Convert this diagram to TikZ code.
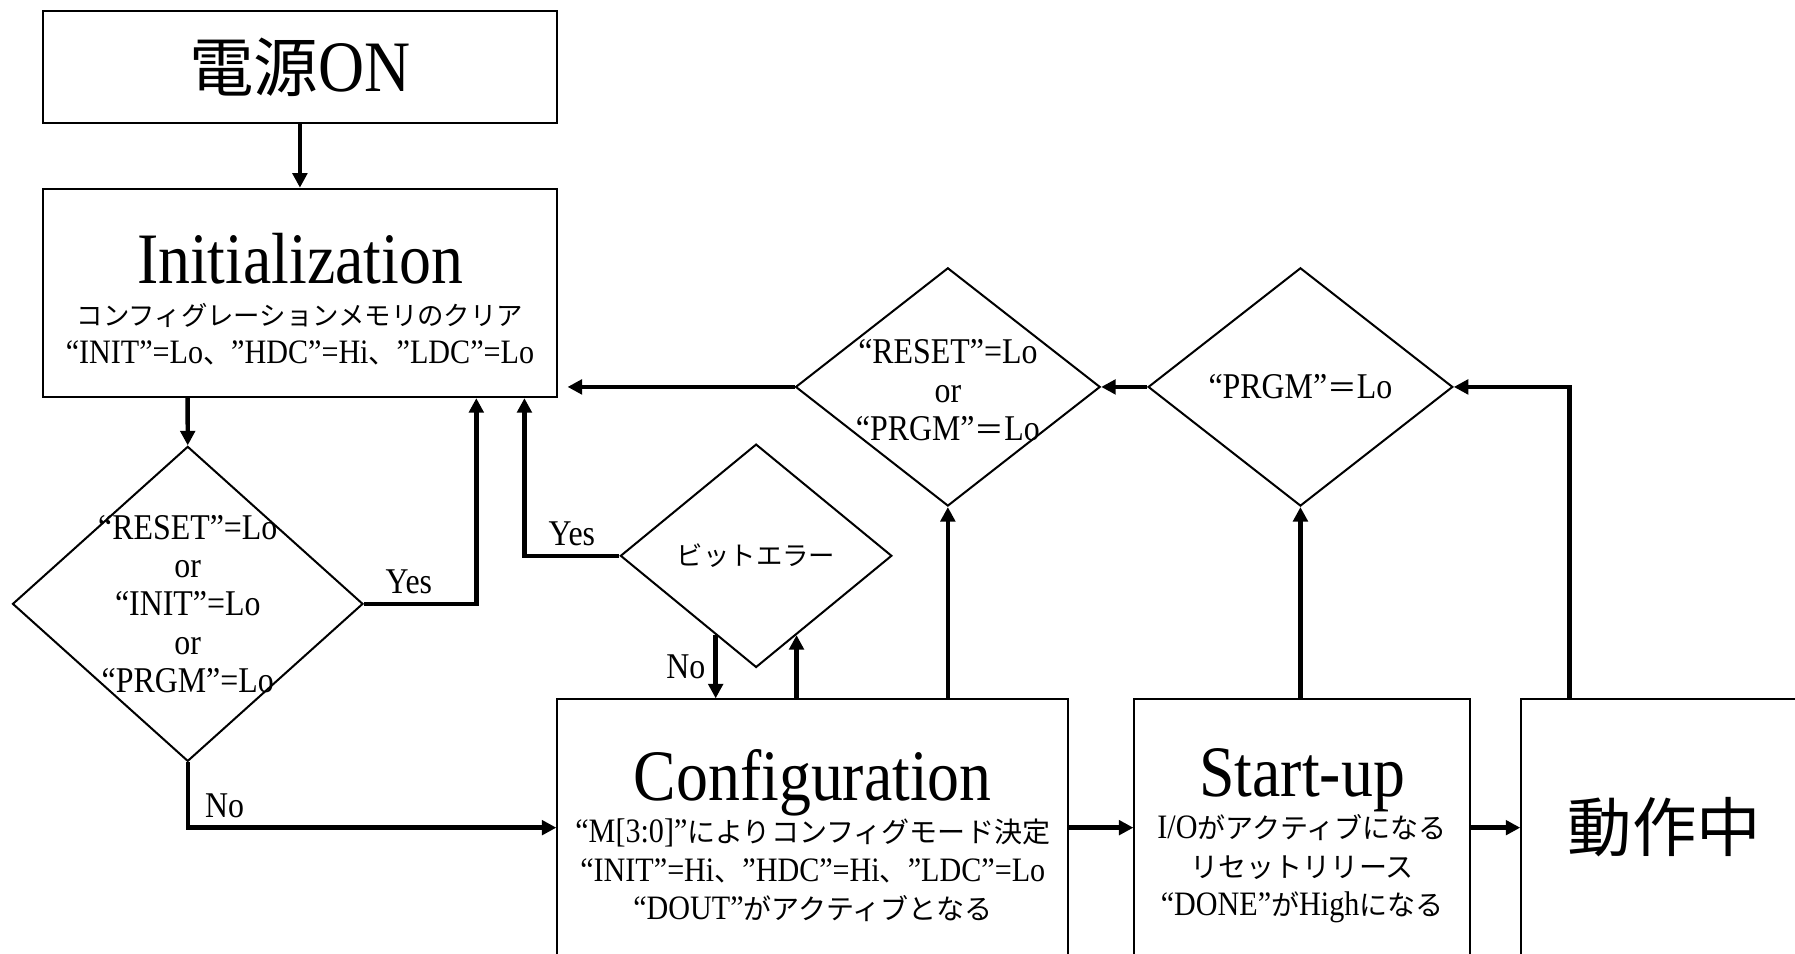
\documentclass[tikz,border=0pt]{standalone}
\usepackage{fontspec}
\setmainfont[FakeStretch=0.88]{Liberation Serif}
\newfontfamily\jp[Scale=0.82]{Noto Sans CJK JP}
\newfontfamily\jpt[Scale=0.89]{Noto Sans CJK JP}
\usetikzlibrary{shapes.geometric,arrows.meta,positioning}
\newcommand{\boxtitle}{\fontsize{18}{20}\selectfont}
\newcommand{\tightlines}{\lineskiplimit=-20pt\relax}

\begin{document}
\begin{tikzpicture}[
    x=0.01cm, y=-0.01cm,
    box/.style={rectangle, draw, line width=0.5pt, align=center, inner sep=0pt,
        font=\fontsize{8.5}{9.5}\selectfont\tightlines},
    decision/.style={diamond, draw, line width=0.5pt, inner sep=0pt},
    dtext/.style={align=center, inner sep=0pt, font=\fontsize{9}{9.53}\selectfont\tightlines},
    arr/.style={-{Triangle[length=3.6pt,width=3.6pt]}, line width=1.1pt},
    lbl/.style={font=\fontsize{9}{10}\selectfont, inner sep=2pt}
]
    \useasboundingbox (0,0) rectangle (1568,833);
    \clip (0,0) rectangle (1568,833);

    \node[box, minimum width=4.48cm, minimum height=0.97cm] (power) at (262,58.5) {\boxtitle{\jpt 電源}ON};
    \node[box, minimum width=4.48cm, minimum height=1.82cm, below=0.56cm of power] (init)
        {{\boxtitle\rule{0pt}{15.5pt}Initialization}\\[1pt] {\jp\fontsize{8}{9.5}\selectfont コンフィグレーションメモリのクリア}\\ “INIT”=Lo{\jp 、}”HDC”=Hi{\jp 、}”LDC”=Lo};
    \node[box, minimum width=4.46cm, minimum height=2.38cm] (config) at (710,730)
        {{\boxtitle Configuration}\\[1pt] “M[3:0]”{\jp によりコンフィグモード決定}\\ “INIT”=Hi{\jp 、}”HDC”=Hi{\jp 、}”LDC”=Lo\\ “DOUT”{\jp がアクティブとなる}};
    \node[box, minimum width=2.93cm, minimum height=2.38cm, right=0.56cm of config] (startup)
        {{\boxtitle Start-up}\\[1pt] I/O{\jp がアクティブになる}\\ {\jp リセットリリース}\\ “DONE”{\jp が}High{\jp になる}};
    \node[box, minimum width=2.5cm, minimum height=2.38cm, right=0.43cm of startup] (run) {\boxtitle{\jpt 動作中}\rule[-0.2cm]{0pt}{0.2cm}};

    \node[decision, minimum width=3.06cm, minimum height=2.75cm,
        label={[dtext]center:{“RESET”=Lo\\or\\“INIT”=Lo\\or\\“PRGM”=Lo}}] (d1) at (164,527.5) {};
    \node[decision, minimum width=2.37cm, minimum height=1.95cm,
        label={[dtext, font=\fontsize{8}{9}\selectfont]center:{\jp ビットエラー}}] (d2) at (660.5,485.5) {};
    \node[decision, minimum width=2.66cm, minimum height=2.08cm,
        label={[dtext, yshift=-0.03cm]center:{“RESET”=Lo\\or\\“PRGM”{\jp ＝}Lo}}] (d3) at (828,338) {};
    \node[decision, minimum width=2.66cm, minimum height=2.08cm,
        label={[dtext]center:{“PRGM”{\jp ＝}Lo}}] (d4) at (1136,338) {};

    \draw[arr] (power) -- (init);
    \draw[arr] ([xshift=-0.98cm]init.south) -- (d1.north);
    \draw[arr] (d1.east) -| node[lbl, above, pos=0.2] (yes1) {Yes} ([xshift=1.54cm]init.south);
    \draw[arr] (d1.south) |- node[lbl, above, pos=0.55] (no1) {No} ([yshift=0.07cm]config.west);
    \draw[arr] (d2.west) -| node[lbl, above, pos=0.25] (yes2) {Yes} ([xshift=1.96cm]init.south);
    \draw[arr] (d2.243) -- node[lbl, left] (no2) {No} (d2.243 |- config.north);
    \draw[arr] (d2.297 |- config.north) -- (d2.297);
    \draw[arr] (d3.south |- config.north) -- (d3.south);
    \draw[arr, shorten >=2.5pt] (d3.west) -- (d3.west -| init.east);
    \draw[arr] (d4.west) -- (d3.east);
    \draw[arr] (d4.south |- startup.north) -- (d4.south);
    \draw[arr] ([xshift=-0.83cm]run.north) |- (d4.east);
    \draw[arr] ([yshift=0.07cm]config.east) -- ([yshift=0.07cm]startup.west);
    \draw[arr] ([yshift=0.07cm]startup.east) -- ([yshift=0.07cm]run.west);
\end{tikzpicture}
\end{document}
